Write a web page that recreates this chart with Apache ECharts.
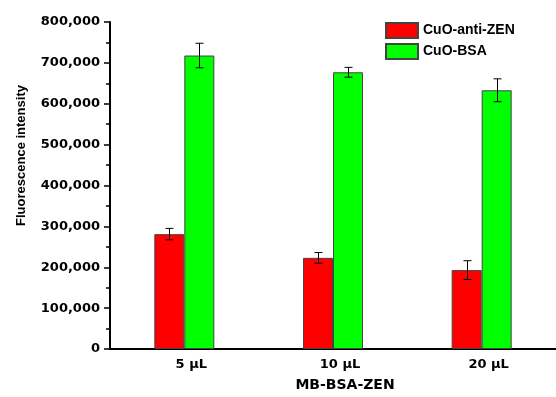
<!DOCTYPE html>
<html>
<head>
<meta charset="utf-8">
<script src="https://cdn.jsdelivr.net/npm/echarts@6/dist/echarts.min.js"></script>
<style>html,body{margin:0;padding:0;background:#fff}#c{width:556px;height:397px}</style>
</head>
<body>
<div id="c"></div>
<script>
const categories = ['5 µL', '10 µL', '20 µL'];
const antiZen = [281000, 223000, 193000];
const antiZenErr = [14000, 13000, 23000];
const bsa = [718000, 677000, 633000];
const bsaErr = [30000, 12000, 28000];
const seriesNames = ['CuO-anti-ZEN', 'CuO-BSA'];

const chart = echarts.init(document.getElementById('c'), null, {renderer: 'canvas'});
const BW = 30;
function errData(vals, errs) {
  return vals.map((v, i) => [i, v - errs[i], v + errs[i]]);
}
function errSeries(vals, errs, offset) {
  return {
    type: 'custom',
    z: 10,
    silent: true,
    data: errData(vals, errs),
    encode: {x: 0, y: [1, 2]},
    renderItem: function (params, api) {
      const i = api.value(0);
      const lo = api.coord([i, api.value(1)]);
      const hi = api.coord([i, api.value(2)]);
      const x = Math.round(lo[0] + offset) + 0.5;
      const cw = 4;
      const st = {stroke: '#000', lineWidth: 1};
      return {
        type: 'group',
        children: [
          {type: 'line', shape: {x1: x, y1: hi[1], x2: x, y2: lo[1]}, style: st},
          {type: 'line', shape: {x1: x - cw, y1: hi[1], x2: x + cw, y2: hi[1]}, style: st},
          {type: 'line', shape: {x1: x - cw, y1: lo[1], x2: x + cw, y2: lo[1]}, style: st}
        ]
      };
    }
  };
}
const option = {
  animation: false,
  grid: {left: 110, top: 22, width: 450, bottom: 45, containLabel: false},
  legend: {
    orient: 'vertical', left: 385, top: 22, padding: 0, itemWidth: 32, itemHeight: 15, itemGap: 4,
    icon: 'rect',
    data: seriesNames,
    textStyle: {fontFamily: 'Liberation Sans', fontWeight: 'bold', fontSize: 14, color: '#000'}
  },
  xAxis: {
    type: 'category', data: categories,
    axisLine: {lineStyle: {color: '#000', width: 2}},
    axisTick: {show: false},
    axisLabel: {margin: 9, fontFamily: 'DejaVu Sans', fontWeight: 'bold', fontSize: 13, color: '#000', padding: [0, 0, 0, 14]},
    name: 'MB-BSA-ZEN', nameLocation: 'middle', nameGap: 29,
    nameTextStyle: {fontFamily: 'DejaVu Sans', fontWeight: 'bold', fontSize: 14, color: '#000', padding: [0, 0, 0, 24]}
  },
  yAxis: {
    type: 'value', min: 0, max: 800000, interval: 100000,
    axisLine: {show: true, lineStyle: {color: '#000', width: 2}},
    axisTick: {show: true, length: 6, lineStyle: {color: '#000', width: 1.5}},
    minorTick: {show: true, splitNumber: 2, length: 4, lineStyle: {color: '#000', width: 1.5}},
    splitLine: {show: false},
    axisLabel: {margin: 10, fontFamily: 'DejaVu Sans', fontWeight: 'bold', fontSize: 13, color: '#000',
      formatter: v => v.toLocaleString('en-US')},
    name: 'Fluorescence intensity', nameLocation: 'middle', nameGap: 82, nameRotate: 90,
    nameTextStyle: {fontFamily: 'Liberation Sans', fontWeight: 'bold', fontSize: 13, color: '#000', padding: [0, 0, 0, 60]}
  },
  series: [
    {name: seriesNames[0], type: 'bar', data: antiZen, barWidth: BW, barGap: '0%',
      itemStyle: {color: '#ff0000', borderColor: '#444', borderWidth: 1}},
    {name: seriesNames[1], type: 'bar', data: bsa, barWidth: BW, barGap: '0%',
      itemStyle: {color: '#00ff00', borderColor: '#444', borderWidth: 1}},
    errSeries(antiZen, antiZenErr, -BW / 2),
    errSeries(bsa, bsaErr, BW / 2)
  ]
};
chart.setOption(option);
</script>
</body>
</html>
